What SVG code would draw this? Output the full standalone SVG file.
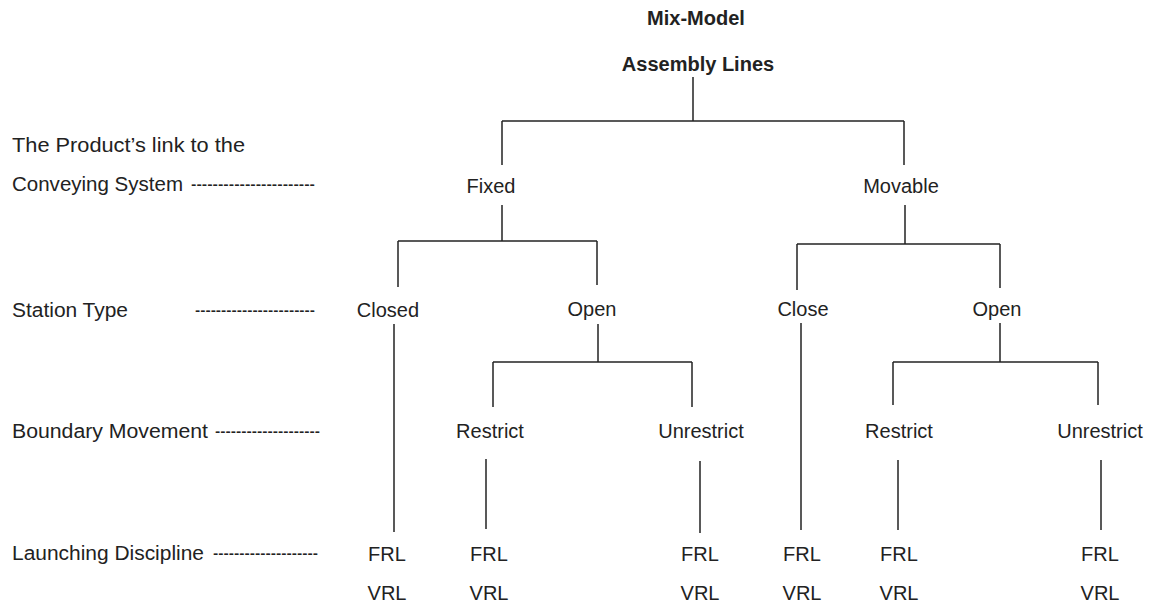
<svg xmlns="http://www.w3.org/2000/svg" width="1155" height="605" viewBox="0 0 1155 605">
<style>
text{font-family:"Liberation Sans",Arial,sans-serif;font-size:20px;fill:#222}
.t{font-weight:bold}
.c{text-anchor:middle}
line{stroke:#222;stroke-width:1.5}
</style>
<rect width="1155" height="605" fill="#fff"/>
<g id="levels">
<text x="12" y="152" textLength="233" lengthAdjust="spacingAndGlyphs">The Product’s link to the</text>
<text x="12" y="191" textLength="171" lengthAdjust="spacingAndGlyphs">Conveying System</text>
<text x="191" y="191" textLength="124" lengthAdjust="spacingAndGlyphs">-----------------------</text>
<text x="12" y="317" textLength="116" lengthAdjust="spacingAndGlyphs">Station Type</text>
<text x="195" y="317" textLength="120" lengthAdjust="spacingAndGlyphs">-----------------------</text>
<text x="12" y="438" textLength="196" lengthAdjust="spacingAndGlyphs">Boundary Movement</text>
<text x="215" y="438" textLength="105" lengthAdjust="spacingAndGlyphs">--------------------</text>
<text x="12" y="560" textLength="192" lengthAdjust="spacingAndGlyphs">Launching Discipline</text>
<text x="213" y="560" textLength="105" lengthAdjust="spacingAndGlyphs">--------------------</text>
</g>
<g id="connectors">
<line x1="693" y1="77" x2="693" y2="121"/>
<line x1="502" y1="121" x2="904" y2="121"/>
<line x1="502" y1="121" x2="502" y2="165"/>
<line x1="904" y1="121" x2="904" y2="165"/>
<line x1="502" y1="205" x2="502" y2="241"/>
<line x1="398" y1="241" x2="597" y2="241"/>
<line x1="398" y1="241" x2="398" y2="287"/>
<line x1="597" y1="241" x2="597" y2="285"/>
<line x1="905" y1="205" x2="905" y2="244"/>
<line x1="797" y1="244" x2="1000" y2="244"/>
<line x1="797" y1="244" x2="797" y2="290"/>
<line x1="1000" y1="244" x2="1000" y2="288"/>
<line x1="394" y1="324" x2="394" y2="532"/>
<line x1="598" y1="324" x2="598" y2="362"/>
<line x1="493" y1="362" x2="692" y2="362"/>
<line x1="493" y1="362" x2="493" y2="407"/>
<line x1="692" y1="362" x2="692" y2="407"/>
<line x1="801" y1="323" x2="801" y2="530"/>
<line x1="1000" y1="323" x2="1000" y2="362"/>
<line x1="893" y1="362" x2="1098" y2="362"/>
<line x1="893" y1="362" x2="893" y2="405"/>
<line x1="1098" y1="362" x2="1098" y2="405"/>
<line x1="486" y1="459" x2="486" y2="529"/>
<line x1="700" y1="461" x2="700" y2="533"/>
<line x1="898" y1="460" x2="898" y2="530"/>
<line x1="1101" y1="460" x2="1101" y2="530"/>
</g>
<g id="root"><text class="t c" x="696" y="25">Mix-Model</text><text class="t c" x="698" y="71">Assembly Lines</text></g>
<g id="fixed"><text class="c" x="491" y="193">Fixed</text></g>
<g id="movable"><text class="c" x="901" y="193">Movable</text></g>
<g id="closed"><text class="c" x="388" y="317">Closed</text></g>
<g id="open1"><text class="c" x="592" y="316">Open</text></g>
<g id="close2"><text class="c" x="803" y="316">Close</text></g>
<g id="open2"><text class="c" x="997" y="316">Open</text></g>
<g id="restrict1"><text class="c" x="490" y="438">Restrict</text></g>
<g id="unrestrict1"><text class="c" x="701" y="438">Unrestrict</text></g>
<g id="restrict2"><text class="c" x="899" y="438">Restrict</text></g>
<g id="unrestrict2"><text class="c" x="1100" y="438">Unrestrict</text></g>
<g id="ld1"><text class="c" x="387" y="561">FRL</text><text class="c" x="387" y="600">VRL</text></g>
<g id="ld2"><text class="c" x="489" y="561">FRL</text><text class="c" x="489" y="600">VRL</text></g>
<g id="ld3"><text class="c" x="700" y="561">FRL</text><text class="c" x="700" y="600">VRL</text></g>
<g id="ld4"><text class="c" x="802" y="561">FRL</text><text class="c" x="802" y="600">VRL</text></g>
<g id="ld5"><text class="c" x="899" y="561">FRL</text><text class="c" x="899" y="600">VRL</text></g>
<g id="ld6"><text class="c" x="1100" y="561">FRL</text><text class="c" x="1100" y="600">VRL</text></g>
</svg>
